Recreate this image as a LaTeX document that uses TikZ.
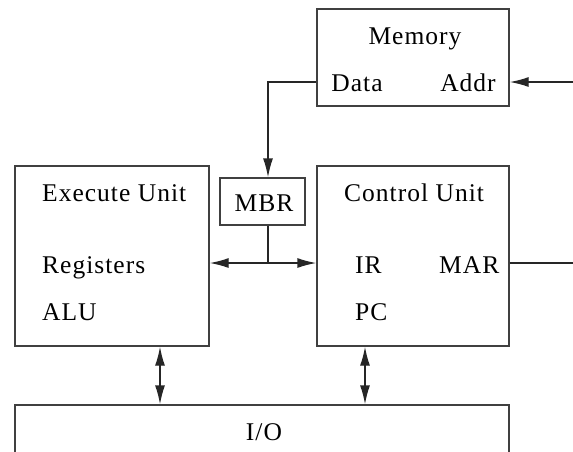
\documentclass[tikz,border=0pt]{standalone}
\usepackage{fontspec}
\setmainfont{Liberation Serif}[LetterSpace=4]
\usetikzlibrary{arrows.meta}
\begin{document}
\begin{tikzpicture}[x=1pt,y=-1pt,
  hd/.tip={Latex[length=19pt,width=10pt]},
  box/.style={draw=black!75,line width=1.4pt,inner sep=0pt},
  lbl/.style={inner sep=0pt,anchor=base west,font=\fontsize{25.5}{25.5}\selectfont},
  clbl/.style={inner sep=0pt,anchor=base,font=\fontsize{25.5}{25.5}\selectfont},
  conn/.style={line width=1.4pt,draw=black!85},
  tip/.style={-{hd}}]
\useasboundingbox (0,0) rectangle (573,451);
\clip (0,0) rectangle (573,451);
% boxes
\node[box,minimum width=192pt,minimum height=97pt] (mem) at (413,57.5) {};
\node[box,minimum width=194pt,minimum height=180pt] (exec) at (112,256) {};
\node[box,minimum width=192pt,minimum height=180pt] (ctrl) at (413,256) {};
\node[box,minimum width=85pt,minimum height=47pt] (mbr) at (262.5,201.5) {};
\node[box,minimum width=494pt,minimum height=80pt] (io) at (262,445) {};
% texts
\node[clbl] (tmem) at (415,44) {Memory};
\node[clbl] (tdata) at (357,91) {Data};
\node[clbl] (taddr) at (468,91) {Addr};
\node[clbl] (tmbr) at (264,211) {MBR};
\node[lbl] (texec) at (42,201) {Execute Unit};
\node[lbl] (treg) at (42,273) {Registers};
\node[lbl] (talu) at (42,320) {ALU};
\node[lbl] (tctrl) at (344,201) {Control Unit};
\node[lbl] (tir) at (355,273) {IR};
\node[lbl] (tmar) at (439,273) {MAR};
\node[lbl] (tpc) at (355,320) {PC};
\node[clbl] (tio) at (264,440) {I/O};
% connector points
\coordinate (addrin) at (573,82);
\coordinate (datapt) at (317,82);
\coordinate (dcorner) at (268,82);
\coordinate (bus) at (268,263);
\coordinate (marout) at (573,263);
% connectors
\draw[conn,tip] (addrin) -- (mem.east |- addrin);
\draw[conn,tip] (mem.west |- datapt) -- (dcorner) -- (dcorner |- mbr.north);
\draw[conn] (dcorner |- mbr.south) -- (bus);
\draw[conn,tip] (bus) -- (exec.east |- bus);
\draw[conn,tip] (bus) -- (ctrl.west |- bus);
\draw[conn] (ctrl.east |- marout) -- (marout);
\draw[conn,{hd}-{hd}] (exec.south -| 160,0) -- (io.north -| 160,0);
\draw[conn,{hd}-{hd}] (ctrl.south -| 365,0) -- (io.north -| 365,0);
\end{tikzpicture}
\end{document}
